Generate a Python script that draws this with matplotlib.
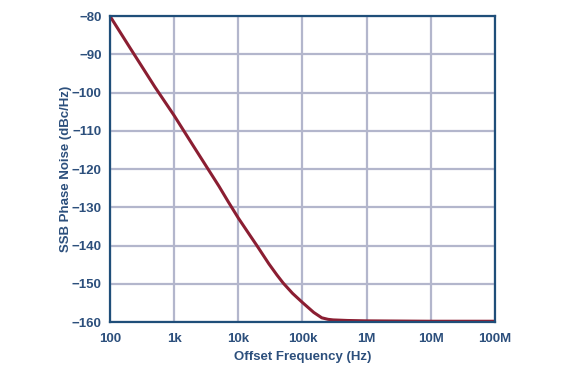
import matplotlib.pyplot as plt
import numpy as np

# phase noise curve
freq_hz = [100, 200, 500, 1e3, 2e3, 5e3, 7e3, 1e4, 1.5e4, 2e4, 3e4, 4e4, 5e4, 7e4, 1e5, 1.5e5, 2e5, 2.5e5, 3e5, 5e5, 1e6, 1e7, 1e8]
noise_dbc = [-80, -88, -98.5, -106, -114, -124.5, -128.6, -132.8, -137.2, -140.3, -144.8, -147.7, -149.8, -152.5, -154.9, -157.5, -158.9, -159.3, -159.45, -159.6, -159.7, -159.8, -159.8]

xticks = [1e2, 1e3, 1e4, 1e5, 1e6, 1e7, 1e8]
xtick_labels = ['100', '1k', '10k', '100k', '1M', '10M', '100M']
yticks = [-80, -90, -100, -110, -120, -130, -140, -150, -160]

plt.rcParams['font.family'] = ['Liberation Sans', 'DejaVu Sans']
text_col = '#2c4f7c'
axis_col = '#1f4e79'

fig = plt.figure(figsize=(5.77, 3.75), dpi=100)
ax = fig.add_axes([0.1906, 0.1413, 0.6672, 0.8157])

ax.semilogx(freq_hz, noise_dbc, color='#8b1e32', linewidth=2.2,
            solid_joinstyle='round')
ax.set_xlim(1e2, 1e8)
ax.set_ylim(-160, -80)

ax.set_xticks(xticks)
ax.set_xticklabels(xtick_labels)
ax.set_yticks(yticks)
ax.set_yticklabels(['\u2212' + str(-v) for v in yticks])
ax.minorticks_off()
ax.tick_params(length=0, labelsize=9.5, labelcolor=text_col)
ax.tick_params(axis='x', pad=8)
ax.tick_params(axis='y', pad=6)
for lbl in ax.get_xticklabels() + ax.get_yticklabels():
    lbl.set_fontweight('bold')

ax.grid(True, color='#b3b6cc', linewidth=1.6)
ax.set_axisbelow(True)
for sp in ax.spines.values():
    sp.set_color(axis_col)
    sp.set_linewidth(1.6)

ax.set_xlabel('Offset Frequency (Hz)', fontsize=9.5, fontweight='bold', color=text_col, labelpad=4)
ax.set_ylabel('SSB Phase Noise (dBc/Hz)', fontsize=9.5, fontweight='bold', color=text_col, labelpad=0)

fig.savefig('out.png', dpi=100)
